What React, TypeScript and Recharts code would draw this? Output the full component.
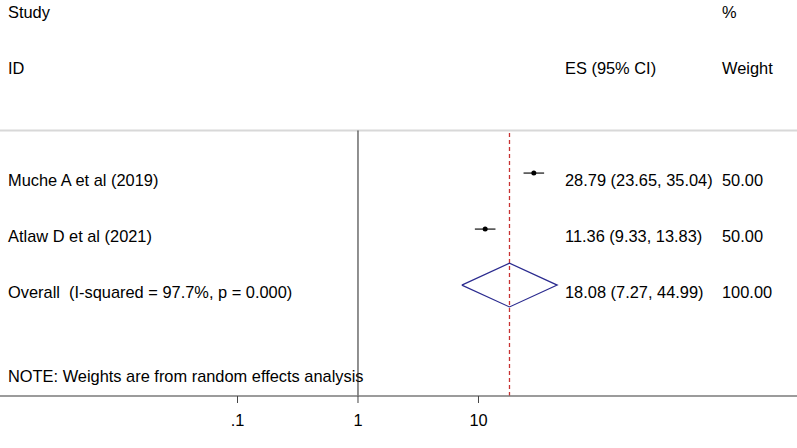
import React from "react"
import {
  ComposedChart,
  Scatter,
  ErrorBar,
  XAxis,
  YAxis,
  ReferenceLine,
  Customized
} from "recharts"

// study data
const studies = ["Muche A et al (2019)", "Atlaw D et al (2021)"]
const effects = [28.79, 11.36]
const lower = [23.65, 9.33]
const upper = [35.04, 13.83]
const weights = ["50.00", "50.00"]

// pooled estimate
const overallES = 18.08
const overallLo = 7.27
const overallHi = 44.99
const iSquared = "97.7%"
const pValue = "0.000"

const xTicks = [0.1, 1, 10]

const W = 797
const H = 448
const FONT = "'Liberation Sans', Arial, Helvetica, sans-serif"
const FS = 16.4

// row positions on the y scale
const studyRows = [4, 3]
const overallRow = 2
const topRule = 4.76
const diamondHalf = 0.39

const studyData = studies.map((name, i) => ({
  name,
  x: effects[i],
  y: studyRows[i],
  err: [effects[i] - lower[i], upper[i] - effects[i]]
}))

const diamondData = [
  { x: overallLo, y: overallRow },
  { x: overallES, y: overallRow + diamondHalf },
  { x: overallHi, y: overallRow },
  { x: overallES, y: overallRow - diamondHalf },
  { x: overallLo, y: overallRow }
]

const fmt = (v: number) => v.toFixed(2)

const TextLayer = () => {
  const t = (x: number, y: number, s: string, key: string) => (
    <text key={key} x={x} y={y} fontSize={FS} fontFamily={FONT} fill="#000">
      {s}
    </text>
  )
  const rowBase = [186, 242]
  return (
    <g>
      {t(8, 18, "Study", "h1")}
      {t(722, 18, "%", "h2")}
      {t(8, 74, "ID", "h3")}
      {t(565, 74, "ES (95% CI)", "h4")}
      {t(722, 74, "Weight", "h5")}
      {studies.map((s, i) => (
        <g key={s}>
          {t(8, rowBase[i], s, "s" + i)}
          {t(565, rowBase[i], `${fmt(effects[i])} (${fmt(lower[i])}, ${fmt(upper[i])})`, "e" + i)}
          {t(722, rowBase[i], weights[i], "w" + i)}
        </g>
      ))}
      <text x={8} y={298} fontSize={FS} fontFamily={FONT} fill="#000" xmlSpace="preserve">
        {`Overall  (I-squared = ${iSquared}, p = ${pValue})`}
      </text>
      {t(565, 298, `${fmt(overallES)} (${fmt(overallLo)}, ${fmt(overallHi)})`, "oe")}
      {t(722, 298, "100.00", "ow")}
      {t(8, 382, "NOTE: Weights are from random effects analysis", "note")}
    </g>
  )
}

const Dot = (props: any) => {
  const { cx, cy } = props
  return <circle cx={cx} cy={cy} r={2.5} fill="#000" />
}

const Tick = (props: any) => {
  const { x, y, payload } = props
  const v = payload.value
  const label = v < 1 ? String(v).replace(/^0/, "") : String(v)
  return (
    <text x={x} y={y + 21} textAnchor="middle" fontSize={FS} fontFamily={FONT} fill="#000">
      {label}
    </text>
  )
}

export default function App() {
  return (
    <div style={{ position: "absolute", left: 0, top: 0, width: W, height: H, background: "#fff" }}>
      <ComposedChart width={W} height={H} margin={{ top: 0, right: 0, bottom: 0, left: 0 }}>
        <XAxis
          dataKey="x"
          type="number"
          scale="log"
          domain={[0.001069, 4398]}
          allowDataOverflow
          ticks={xTicks}
          height={52}
          axisLine={{ stroke: "#7a7a7a", strokeWidth: 1.5 }}
          tickLine={{ stroke: "#444" }}
          tickSize={7}
          tick={<Tick />}
        />
        <YAxis dataKey="y" type="number" domain={[0.02, 7.09]} hide allowDataOverflow />
        <ReferenceLine y={topRule} stroke="#d8d8d8" strokeWidth={2} />
        <ReferenceLine
          segment={[{ x: 1, y: 0.02 }, { x: 1, y: topRule }]}
          stroke="#222"
          strokeWidth={1}
        />
        <ReferenceLine
          segment={[{ x: overallES, y: 0.02 }, { x: overallES, y: topRule }]}
          stroke="#c83232"
          strokeOpacity={1}
          strokeWidth={1.3}
          strokeDasharray="4 3"
        />
        <Scatter data={studyData} shape={<Dot />} isAnimationActive={false}>
          <ErrorBar dataKey="err" direction="x" width={0} stroke="#222" strokeWidth={1.3} />
        </Scatter>
        <Scatter
          data={diamondData}
          line={{ stroke: "#2b2b8f", strokeWidth: 1.2 }}
          shape={() => <g />}
          isAnimationActive={false}
        />
        <Customized component={TextLayer} />
      </ComposedChart>
    </div>
  )
}
